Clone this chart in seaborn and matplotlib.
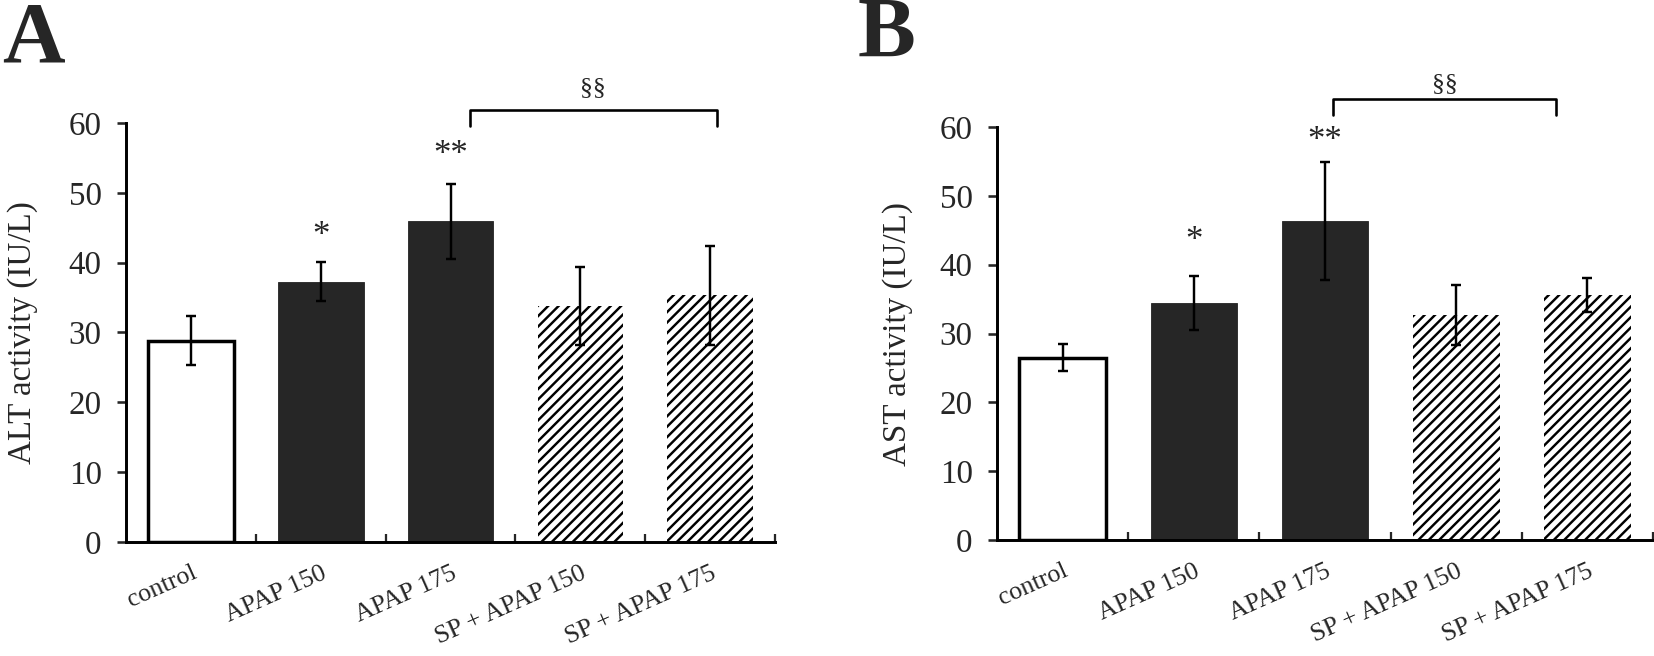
import numpy as np
import pandas as pd
import matplotlib
matplotlib.use('Agg')
import matplotlib.pyplot as plt
import seaborn as sns

# data
groups = ['control', 'APAP 150', 'APAP 175', 'SP + APAP 150', 'SP + APAP 175']
alt_mean = [28.8, 37.3, 45.9, 33.8, 35.3]
alt_err = [3.5, 2.8, 5.35, 5.6, 7.05]
ast_mean = [26.5, 34.4, 46.3, 32.7, 35.6]
ast_err = [1.95, 3.95, 8.55, 4.35, 2.5]
alt_stars = ['', '*', '**', '', '']
ast_stars = ['', '*', '**', '', '']

fills = ['white', '#262626', '#262626', 'white', 'white']
hatches = ['', '', '', '////', '////']

sns.set_style('white')
plt.rcParams['font.family'] = ['Liberation Serif', 'DejaVu Serif']
plt.rcParams['hatch.linewidth'] = 1.4
plt.rcParams['hatch.color'] = 'black'

DPI = 125
fig = plt.figure(figsize=(1654 / DPI, 656 / DPI), dpi=DPI)
axA = fig.add_axes([0.0762, 0.1738, 0.3924, 0.6387])
axB = fig.add_axes([0.6028, 0.1768, 0.3966, 0.6296])


def panel(ax, means, errs, stars, ylabel, star_y, br_x, br_y, label_x):
    df = pd.DataFrame({'group': groups, 'value': means})
    sns.barplot(data=df, x='group', y='value', hue='group', palette=fills,
                saturation=1, width=0.66, legend=False, ax=ax, errorbar=None)
    for i, p in enumerate(ax.patches):
        p.set_hatch(hatches[i])
        if i == 0:
            p.set_edgecolor('black')
            p.set_linewidth(2.0)
        elif hatches[i]:
            p.set_edgecolor('black')
            p.set_linewidth(0)
        else:
            p.set_edgecolor('#262626')
            p.set_linewidth(0.5)
        p.set_zorder(2)
    ax.errorbar(range(len(groups)), means, yerr=errs, fmt='none', ecolor='black',
                elinewidth=1.4, capsize=3, capthick=1.4, zorder=3)
    for i, s in enumerate(stars):
        if s:
            ax.text(i, star_y[i], s, ha='center', va='center', fontsize=20)
    # bracket between APAP 175 and SP + APAP 175
    x0, x1 = br_x
    ax.plot([x0, x0, x1, x1], [br_y[0], br_y[1], br_y[1], br_y[0]], color='black',
            lw=1.5, clip_on=False)
    ax.text((x0 + x1) / 2, br_y[2], '§§', ha='center', va='center', fontsize=15)

    ax.set_ylim(0, 60)
    ax.set_xlim(-0.5, 4.5)
    ax.set_yticks(range(0, 61, 10))
    ax.tick_params(axis='y', labelsize=19, length=5, width=1.5, pad=9, direction='out', left=True)
    ax.set_xticks(range(len(groups)))
    ax.set_xticklabels(groups, rotation=24, ha='right', va='top', rotation_mode='anchor',
                       fontsize=15)
    ax.tick_params(axis='x', which='major', length=0, pad=11.5)
    ax.set_xticks(np.arange(0.5, 5, 1), minor=True)
    ax.tick_params(axis='x', which='minor', direction='in', length=4.5, width=1.3, bottom=True)
    ax.set_xlabel('')
    ax.set_ylabel(ylabel, fontsize=19)
    ax.yaxis.set_label_coords(label_x, 0.5)
    sns.despine(ax=ax)
    for side in ['left', 'bottom']:
        ax.spines[side].set_linewidth(1.7)
        ax.spines[side].set_color('black')


panel(axA, alt_mean, alt_err, alt_stars, 'ALT activity (IU/L)',
      [0, 43.7, 55.4, 0, 0], (2.15, 4.05), (59.5, 61.8, 65.0), -0.135)
panel(axB, ast_mean, ast_err, ast_stars, 'AST activity (IU/L)',
      [0, 43.4, 57.9, 0, 0], (2.06, 3.76), (61.8, 64.0, 66.2), -0.128)

fig.text(0.001, 0.9055, 'A', fontsize=50, fontweight='bold', va='baseline', ha='left')
fig.text(0.5187, 0.913, 'B', fontsize=50, fontweight='bold', va='baseline', ha='left')

fig.savefig('out.png', dpi=DPI, facecolor='white')
